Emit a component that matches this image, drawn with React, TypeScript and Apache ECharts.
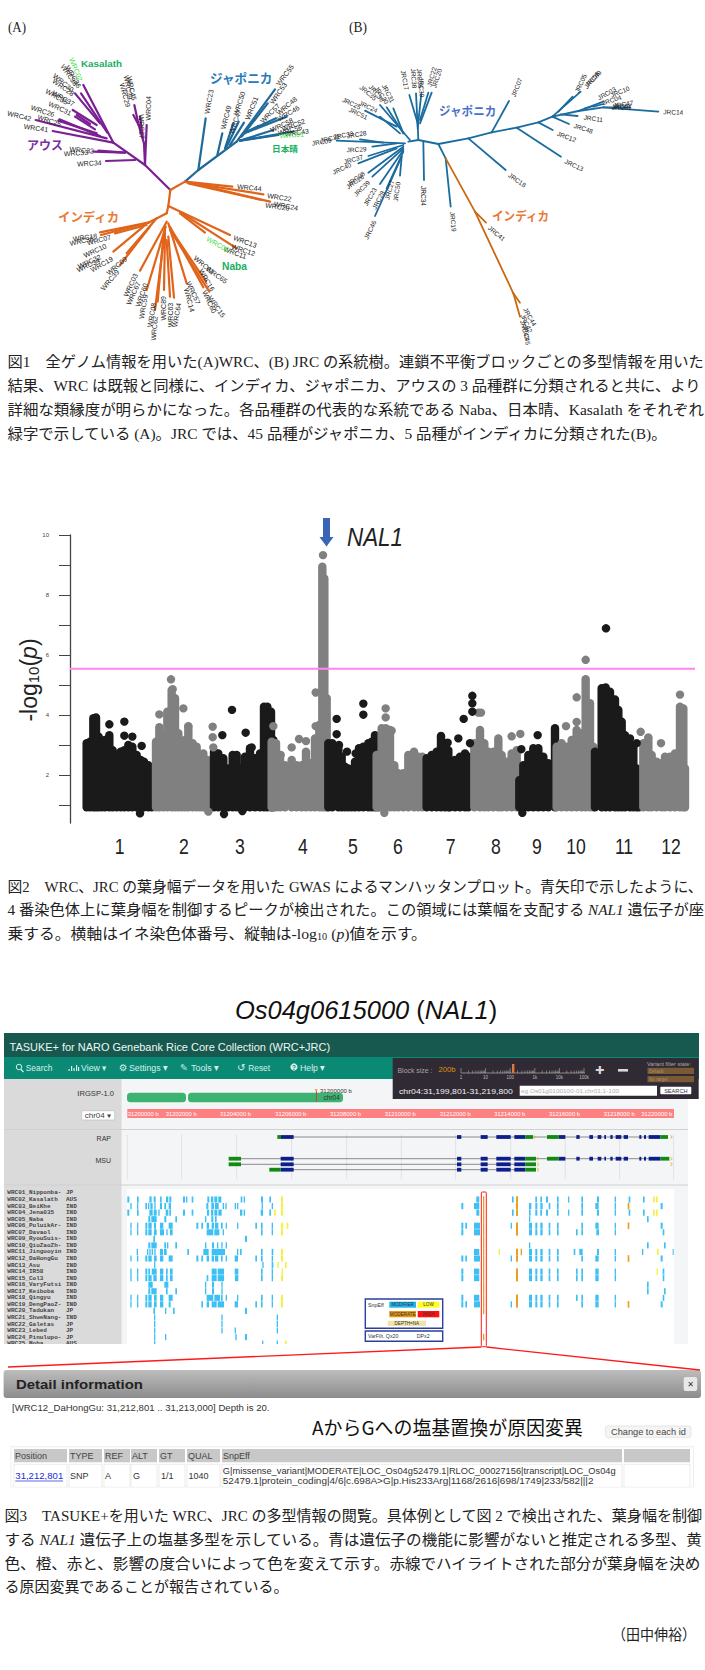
import React, { useEffect, useRef } from "react";
import * as echarts from "echarts";

const SANS = '"Liberation Sans","Noto Sans CJK JP"';
const CAP = '"Liberation Serif","Noto Sans CJK JP"';
const JP = '"Noto Sans CJK JP"';
const BLACK = "#1a1a1a";
const GREY = "#808080";

// ---------- Tree A (unrooted tree, tree units) ----------
const treeAPurple = [
  [511,570,435,495],[435,495,340,428],[435,495,432,430],[435,495,440,375],[432,430,416,375],[416,375,403,315],[416,375,400,345],[428,410,420,350],
  [405,480,318,483],[375,458,280,455],[375,458,295,452],[340,428,158,393],[320,415,107,360],[300,408,178,358],[290,400,175,362],
  [340,428,250,255],[322,398,243,280],[300,370,225,280],[290,375,218,330],[270,372,230,345],[285,388,225,350],
];
const treeABlue = [
  [555,545,595,510],[595,510,710,425],[595,510,617,355],[652,465,667,400],[675,445,700,370],[690,435,732,368],[680,440,716,365],
  [710,425,825,268],[725,410,803,310],[735,400,775,378],[740,395,828,355],[745,395,860,350],[720,422,820,390],[720,422,835,405],[720,422,880,395],
];
const treeAOrange = [
  [511,570,555,545],[511,570,505,618],[505,618,500,640],[555,545,697,560],[560,547,790,583],[565,550,785,600],[620,560,810,605],
  [505,618,690,705],[540,636,710,745],[540,640,615,698],[500,640,445,668],[445,668,300,697],[445,668,303,705],[440,675,345,700],[430,680,340,755],[470,655,380,760],[450,680,360,795],
  [500,665,420,812],[497,680,440,870],[495,690,465,930],[490,710,473,905],[495,700,492,870],[500,720,510,890],[505,710,522,893],[505,670,560,850],[510,680,610,862],[510,690,628,875],[520,700,618,845],
];
const treeALabels: [number,number,number,string][] = [
  [58,348,-14,"WRC42"],[128,333,-18,"WRC26"],[148,362,-18,"WRC25"],[108,384,-8,"WRC41"],[245,450,-5,"WRC32"],[228,459,3,"WRC33"],[268,490,3,"WRC34"],
  [190,295,-30,"WRC37"],[180,325,-25,"WRC31"],[170,290,-30,"WRC35"],[190,262,-35,"WRC28"],[190,248,-40,"WRC30"],[208,225,-55,"WRC38"],[220,230,-60,"WRC36"],
  [375,285,-75,"WRC29"],[395,265,-78,"WRC45"],[385,262,-80,"WRC39"],[425,380,-88,"WRC27"],[445,325,88,"WRC04"],
  [627,305,80,"WRC23"],[678,352,75,"WRC49"],[718,310,72,"WRC50"],[705,365,70,"WRC47"],[755,325,68,"WRC51"],[855,225,52,"WRC55"],[835,280,55,"WRC53"],[810,340,45,"WRC57"],[860,318,40,"WRC48"],[865,340,30,"WRC46"],[845,375,25,"WRC58"],[880,375,20,"WRC52"],[870,390,15,"WRC56"],[890,398,8,"WRC43"],
  [748,563,-5,"WRC44"],[838,592,-8,"WRC22"],[858,618,-10,"WRC24"],[832,620,-8,"WRC20"],
  [735,725,-20,"WRC13"],[730,750,-18,"WRC12"],[705,758,-20,"WRC11"],
  [255,712,8,"WRC18"],[245,723,12,"WRC36"],[297,720,15,"WRC07"],[285,752,25,"WRC10"],[268,785,25,"WRC32"],[265,795,25,"WRC34"],[305,793,30,"WRC19"],[350,798,40,"WRC09"],[330,840,50,"WRC39"],
  [392,855,65,"WRC03"],[400,880,65,"WRC67"],[425,885,70,"WRC60"],[430,920,80,"WRC59"],[455,945,80,"WRC08"],[463,985,85,"WRC62"],[490,925,90,"WRC89"],[512,945,90,"WRC63"],[530,945,80,"WRC64"],
  [580,878,-65,"WRC57"],[568,900,-75,"WRC14"],[620,840,-60,"WRC16"],[628,905,-65,"WRC60"],[650,920,-55,"WRC15"],[650,825,-35,"WRC65"],[612,795,-40,"WRC61"],
];
const treeAGreenLabels: [number,number,number,string][] = [[228,208,-68,"WRC02"],[875,405,5,"WRC01"],[653,733,-30,"WRC05"]];

// ---------- Tree B ----------
const treeBBlue = [
  [205,425,235,420],[235,420,295,432],[295,432,385,415],[385,415,455,397],[455,397,530,383],[530,383,595,367],[595,367,637,350],[637,350,715,333],[715,333,790,322],[790,322,955,335],
  [455,397,507,303],[385,415,497,510],[530,383,663,470],[595,367,638,390],[637,350,687,372],[662,343,713,348],[637,350,722,275],[655,335,698,290],[715,333,790,305],[735,325,760,318],[760,320,790,312],[790,322,870,322],
  [295,432,317,475],[317,475,332,620],[250,425,252,540],
  [235,420,233,370],[233,370,208,285],[233,380,228,280],[233,385,244,280],[240,360,265,278],[240,370,275,278],
  [210,420,120,315],[190,400,140,322],[190,400,160,325],[170,380,75,332],[180,400,120,350],
  [195,430,-10,422],[130,428,60,418],[170,430,97,440],[190,435,85,468],[170,445,55,490],[190,440,85,518],[190,445,97,530],[190,450,120,552],[190,455,140,565],[185,470,105,648],[185,470,180,527],
];
const treeBOrange = [[317,475,405,635],[405,635,520,880],[520,880,540,950],[405,635,438,668],[520,880,540,908]];
const treeBLabels: [number,number,number,string][] = [
  [195,240,-80,"JRC17"],[222,235,-85,"JRC38"],[240,235,-85,"JRC36"],[245,262,-88,"JRC39"],[275,230,75,"JRC22"],[290,235,72,"JRC20"],
  [145,280,-62,"JRC31"],[85,278,-40,"JRC35"],[110,280,-50,"JRC36"],[125,285,-55,"JRC30"],[35,310,-25,"JRC25"],[85,320,-25,"JRC24"],[55,340,-25,"JRC51"],
  [50,403,10,"JRC28"],[10,405,10,"JRC33"],[-30,415,12,"JRC32"],[-55,425,10,"JRC09"],[50,448,3,"JRC29"],[40,478,15,"JRC37"],[5,505,25,"JRC40"],[48,535,35,"JRC08"],[45,545,35,"JRC26"],[65,565,45,"JRC39"],[90,590,60,"JRC23"],[115,600,62,"JRC28"],[148,570,75,"JRC27"],[170,575,82,"JRC50"],[90,690,65,"JRC46"],
  [250,588,-90,"JRC34"],[340,665,-85,"JRC19"],[470,700,-40,"JRC41"],[532,540,-35,"JRC18"],[702,495,-25,"JRC13"],[680,410,-20,"JRC12"],[730,385,-18,"JRC48"],[760,355,-8,"JRC11"],[1000,336,-2,"JRC14"],
  [530,262,68,"JRC07"],[722,250,65,"JRC05"],[755,240,50,"JRC06"],[760,235,45,"JRC09"],[800,280,30,"JRC03"],[840,275,22,"JRC10"],[815,300,18,"JRC04"],[850,312,8,"JRC47"],[845,318,3,"JRC02"],[845,322,0,"JRC01"],
  [570,950,-60,"JRC44"],[560,970,-65,"JRC42"],[555,990,-75,"JRC43"],[560,1005,-80,"JRC45"],
];

// ---------- Manhattan plot: tops of the stacked dots, per chromosome ----------
const R = 795;
const chr1Tops = [[50,3.06],[60,3.11],[70,3.89],[78,3.92],[86,3.28],[95,3.06],[105,3.17],[118,3.33],[128,2.83],[140,2.67],[152,2.78],[163,2.83],[175,3.0],[187,2.94],[200,2.67],[212,2.5],[222,2.44],[235,2.33],[245,2.22]];
const chr2Tops = [[258,3.11],[268,3.59],[280,3.28],[292,4.11],[305,4.83],[315,4.56],[325,3.39],[335,2.61],[345,3.17],[355,3.61],[368,3.06],[380,2.94],[390,2.61],[400,2.72],[412,2.5]];
const chr3Tops = [[432,2.78],[445,2.72],[460,2.56],[475,2.22],[488,2.67],[500,2.67],[512,2.22],[525,2.61],[540,2.89],[555,2.56],[570,2.72],[582,4.28],[592,4.28],[603,4.11],[610,3.17]];
const chr4Tops = [[605,3.11],[618,3.06],[630,2.67],[645,2.33],[665,2.5],[680,2.33],[695,2.33],[708,2.78],[722,2.39],[735,3.22],[748,3.67],[757,8.94],[763,8.55],[770,4.5]];
const chr5Tops = [[-20,3.06],[-8,3.06],[10,2.94],[20,2.61],[30,2.28],[40,2.22],[50,2.11],[60,2.44],[72,2.89],[85,2.94],[100,3.06],[110,3.11],[120,3.33],[130,2.94]];
const chr6Tops = [[125,2.67],[140,3.56],[152,3.56],[165,3.5],[178,2.33],[190,2.06],[205,2.06],[220,2.67],[237,2.78],[250,2.61],[262,2.61]];
const chr7Tops = [[275,2.56],[290,2.67],[305,2.78],[318,3.28],[330,3.06],[340,2.83],[345,2.39],[360,2.5],[375,2.61],[390,2.72],[400,2.61]];
const chr8Tops = [[418,3.06],[435,3.5],[448,3.06],[460,2.78],[475,2.78],[490,3.22],[500,2.67],[515,2.44],[530,2.72],[545,2.83]];
const chr9Tops = [[553,1.83],[565,2.33],[580,2.67],[595,2.89],[610,2.89],[625,2.61],[640,2.39],[660,3.56]];
const chr10Tops = [[665,2.94],[680,3.06],[695,2.94],[710,3.17],[725,3.5],[740,3.39],[752,5.19],[765,4.39],[775,2.94]];
const chr11Tops = [[780,2.78],[800,4.89],[812,4.92],[825,4.78],[840,4.52],[850,4.17],[860,3.78],[870,3.33],[885,3.06],[895,2.89],[905,2.22],[912,1.28]];
const chr12Tops = [[925,3.06],[940,3.22],[950,2.67],[965,2.44],[980,2.39],[990,2.61],[1005,2.61],[1020,2.72],[1035,4.28],[1045,4.22],[1050,2.22]];
const blackDotsLeft = [[118,3.69],[163,3.78],[163,3.31],[187,3.28],[215,2.97],[457,3.33],[486,4.17],[527,3.41],[545,2.92],[210,0.72],[462,0.7],[517,0.8]];
const greyDotsLeft = [[268,4.02],[303,5.19],[308,4.86],[340,4.22],[355,3.63],[428,3.61],[428,3.26],[430,2.92],[610,3.63],[632,2.67],[665,2.92],[687,3.2],[708,3.13],[737,3.63],[737,4.75],[770,4.56],[759,9.33],[415,0.78]];
const blackDotsRight = [[5,3.87],[5,3.36],[12,3.0],[36,2.78],[62,2.72],[85,4.38],[85,4.01],[318,3.3],[338,3.08],[335,2.86],[370,3.22],[386,3.87],[405,3.06],[412,4.64],[412,4.39],[412,4.11],[559,2.86],[608,3.33],[885,3.22],[905,3.06],[562,0.74],[813,6.89]];
const greyDotsRight = [[152,4.22],[152,3.92],[170,3.48],[430,4.08],[438,4.08],[530,3.29],[556,3.37],[752,5.84],[725,4.59],[725,3.77],[693,3.63],[1035,4.68],[978,3.06],[917,3.44],[940,3.25],[148,0.74]];
const threshold = 5.54;
const yTicks = [1,2,3,4,5,6,7,8,9,10];
const yLabels = [2,4,6,8,10];
const chrNames = ["1","2","3","4","5","6","7","8","9","10","11","12"];
const chrNamePos = [149,342,510,699,849,984,1142,1278,1401,1518,1662,1803];

// ---------- TASUKE+ gene tracks (track bins) ----------
const RB = 1056;
const trackY = [7, 28.7, 34.3, 39.7];
const trackRulerGrid = [382,545,710,875,1040,1204,1367,1532,1696,1859,2021];
const rightExons = [[315,328],[386,407],[433,476],[487,520]];
const rightExons2 = [[620,640],[673,683],[712,723],[737,748],[757,762],[775,782],[791,808],[815,828],[862,868],[876,882],[890,925]];
const trackIntrons = [
  [0,881,RB+925],[1,723,RB+925],[2,723,RB+520],[3,842,RB+520],
];
const trackGreen = [
  [0,832,843],[0,RB+520,RB+543],[0,RB+585,RB+620],[0,RB+925,RB+948],
  [1,686,723],[1,RB+520,RB+552],[1,RB+585,RB+620],[1,RB+925,RB+952],
  [2,686,723],[2,RB+520,RB+552],
  [3,808,842],[3,RB+520,RB+552],
];
const trackBlueBase = [[0,843,881],[1,842,881],[2,842,881],[3,842,881]];
const trackArrows = [[0,RB+548],[0,RB+958],[1,RB+558],[1,RB+958],[2,RB+558],[2,RB+958],[3,RB+558]];
const rulerLabels = ["31200000 b","31202000 b","31204000 b","31206000 b","31208000 b","31210000 b","31212000 b","31214000 b","31216000 b","31218000 b","31220000 b"];
const rulerLabelX = [127.7,165.7,220,275.3,330,384.7,439.7,494.3,549,603.7,641.3];

// ---------- TASUKE+ variant matrix ----------
const rowNames = ["WRC01_Nipponba-","WRC02_Kasalath","WRC03_BeiKhe","WRC04_Jena035","WRC05_Naba","WRC06_PuluikAr-","WRC07_Davaol","WRC09_RyouSuis-","WRC10_QiuZaoZh-","WRC11_Jinguoyin","WRC12_DaHongGu","WRC13_Asu","WRC14_IR58","WRC15_Col3","WRC16_VaryFutsi","WRC17_Keiboba","WRC18_Qingyu","WRC19_DengPaoZ-","WRC20_Tadukan","WRC21_ShweNang-","WRC22_Galetas","WRC23_Lebed","WRC24_Pinulupo-","WRC25_Moha"];
const rowGroups = ["JP","AUS","IND","IND","IND","IND","IND","IND","IND","IND","IND","IND","IND","IND","IND","IND","IND","IND","JP","IND","JP","JP","JP","AUS"];
const blueLeft: number[][] = [
  [],
  [382,388,411,416,448,455,461,467,480,485,498,505,508,514,549,555,558,562,575,580,622,628,633,640,643,652,655,664,722,727,731,735,783,789,808,813],
  [391,395,411,415,436,441,444,448,451,458,463,467,480,486,493,498,506,513,619,625,634,642,645,656,668,672,676,680,704,708,711,715,785,789,815,819],
  [382,388,411,416,448,458,461,470,475,479,497,505,508,513,549,555,575,580,621,627,633,640,643,652,655,665,720,727,731,735,782,789,808,813],
  [445,451,454,470,493,499,526,531,615,619,634,640,645,650],
  [391,395,411,415,436,442,445,455,462,468,480,490,506,518,589,595,604,609,620,627,635,642,645,655,663,668,677,680,711,715,766,771,783,788,815,819],
  [391,395,411,415,436,442,445,455,462,470,480,492,499,503,510,518,620,640,643,658,668,672,783,788,815,819],
  [460,465,735,741],
  [445,451,454,470,493,498,501,505,526,531,615,619,636,642,651,655,664,668,677,681],
  [410,414,441,445,448,452,455,458,463,467,480,489,492,500,562,567,610,626,635,675,711,715,720,725,783,788,815,820],
  [391,395,411,415,436,442,445,455,462,470,480,490,506,518,589,595,604,609,620,627,635,642,645,655,663,668,677,680,704,714,766,771,783,788,815,819],
  [462,466,787,791,815,820],
  [391,395,411,415,436,442,445,450,455,470,480,490,498,503,510,518,635,650,653,672,704,715,783,788,815,819],
  [391,395,411,415,436,442,445,455,460,470,480,490,498,503,510,518,620,625,635,650,653,672,705,715,783,788,815,819],
  [445,458,493,505,615,619,636,642,664,668],
  [445,451,454,470,498,503,526,531,615,619,636,642,664,668],
  [391,395,411,415,436,442,445,455,462,470,480,490,506,518,620,640,643,660,663,668,677,681,711,715,783,788,815,819],
  [391,395,411,415,436,442,445,455,462,470,480,490,506,512,604,609,620,627,635,650,653,672,704,714,766,771,783,788,815,819],
  [460,465,495,499,519,524,735,741],
  [462,465,664,668,830,834],
  [462,465,664,668,830,834],
  [462,465,664,668,704,708,830,834],
  [462,465,495,499,706,710,735,741],
  [462,465,786,790,830,834],
];
const blueRight: number[][] = [
  [],
  [373,382,480,485,550,555,565,570,582,588,615,620,648,652,688,693,735,741,788,792,830,835,873,878],
  [328,334,366,382,531,538,550,556,565,572,590,595,615,620,688,693,730,740,788,792,926,932],
  [373,382,480,485,531,536,550,556,565,570,582,588,615,620,648,652,688,693,735,741,788,792,830,835,873,878],
  [531,535,885,890],
  [328,334,340,345,366,384,476,480,531,540,550,556,565,572,590,595,615,620,688,693,730,740,788,792,926,932],
  [328,334,366,384,531,540,550,556,565,572,590,595,615,620,672,677,688,693,733,741,788,792,932,937],
  [],
  [531,535,885,890,936,941],
  [366,382,531,540,550,556,565,572,590,595,615,620,665,670,682,692,735,741,788,792,870,874,962,967],
  [328,334,340,345,366,384,476,480,531,540,550,556,565,572,590,595,615,620,688,693,730,740,788,792,926,932],
  [],
  [328,334,366,382,531,540,550,556,565,572,590,595,615,620,672,677,688,693,730,740,788,792,932,937],
  [328,334,366,382,531,540,550,556,565,572,590,595,615,620,672,677,688,693,730,740,788,792,932,937],
  [885,890],
  [885,890,936,941],
  [328,334,366,382,531,540,550,556,565,572,590,595,615,620,672,677,688,693,730,740,788,792,932,937],
  [328,334,340,345,366,384,476,480,531,540,550,556,565,572,590,595,615,620,688,693,730,740,788,792,926,932],
  [],[],[],[],[],[],
];
// [row, start, end]
const yellowMarks = [
  [1,843,849],[1,RB+903,RB+908],[1,RB+912,RB+917],[2,843,849],[3,822,827],[3,843,849],[3,RB+903,RB+908],[3,RB+912,RB+917],
  [5,843,849],[5,860,865],[6,843,849],[9,843,849],[9,RB+440,RB+444],[9,RB+915,RB+920],[10,843,849],[11,832,836],[11,855,860],[12,845,849],[12,RB+914,RB+918],[13,843,849],[16,843,849],[17,843,849],[23,855,860],
];
const orangeRows = [1,2,3,5,6,9,10,12,13,16,17];
const orangeFull = [1,2,3,4,5,6,7,8,9,10,11,12,13,14,15,16,17,18,22];
const orangeExtra = [[2,RB+827,RB+832],[5,RB+827,RB+832],[10,RB+827,RB+832],[17,RB+827,RB+832],[9,RB+506,RB+510]];

function toTriples(rows: number[][], shift: number) {
  const out: number[][] = [];
  rows.forEach((r, i) => { for (let k = 0; k < r.length; k += 2) out.push([i, r[k] + shift, r[k + 1] + shift]); });
  return out;
}

const canvas = document.createElement("canvas");
const ctx = canvas.getContext("2d")!;
function widthOf(text: string, font: string) { ctx.font = font; return ctx.measureText(text).width; }

function segSeries(xi: number, data: number[][], color: string, w: number, z = 3): any {
  return {
    type: "custom", xAxisIndex: xi, yAxisIndex: xi, silent: true, clip: false, z,
    data, encode: { x: [0, 2], y: [1, 3] },
    renderItem: (_p: any, api: any) => {
      const a = api.coord([api.value(0), api.value(1)]);
      const b = api.coord([api.value(2), api.value(3)]);
      return { type: "line", shape: { x1: a[0], y1: a[1], x2: b[0], y2: b[1] }, style: { stroke: color, lineWidth: w, lineCap: "round", fill: null } };
    },
  };
}
function labelSeries(xi: number, items: [number,number,number,string][], color: string, size: number): any {
  return {
    type: "custom", xAxisIndex: xi, yAxisIndex: xi, silent: true, clip: false, z: 4,
    data: items.map((d) => [d[0], d[1]]), encode: { x: 0, y: 1 },
    renderItem: (p: any, api: any) => {
      const d = items[p.dataIndex];
      const a = api.coord([api.value(0), api.value(1)]);
      return { type: "text", x: a[0], y: a[1], rotation: (d[2] * Math.PI) / 180,
        style: { text: d[3], fill: color, fontSize: size, fontFamily: SANS, align: "center", verticalAlign: "middle" } };
    },
  };
}
function columnSeries(tops: number[][], shift: number, color: string): any {
  return {
    type: "custom", xAxisIndex: 2, yAxisIndex: 2, silent: true, clip: false, z: 3,
    data: tops.map((t) => [t[0] + shift, t[1]]), encode: { x: 0, y: 1 },
    renderItem: (_p: any, api: any) => {
      const a = api.coord([api.value(0), api.value(1)]);
      const b = api.coord([api.value(0), 0.92]);
      return { type: "rect", shape: { x: a[0] - 4.2, y: a[1] - 4.2, width: 8.4, height: b[1] - a[1] + 8.4, r: 4.2 }, style: { fill: color } };
    },
  };
}
function dotSeries(dots: number[][], shift: number, color: string): any {
  return { type: "scatter", xAxisIndex: 2, yAxisIndex: 2, silent: true, symbolSize: 8.4, z: 4, itemStyle: { color, opacity: 1 }, data: dots.map((d) => [d[0] + shift, d[1]]) };
}
function barSeries(xi: number, data: number[][], yOf: (v: number) => number, color: string, h: number, minW = 0, z = 3): any {
  return {
    type: "custom", xAxisIndex: xi, yAxisIndex: xi, silent: true, z,
    data: data.map((d) => [d[1], yOf(d[0]), d[2]]), encode: { x: [0, 2], y: 1 },
    renderItem: (p: any, api: any) => {
      const a = api.coord([api.value(0), api.value(1)]);
      const b = api.coord([api.value(2), api.value(1)]);
      const rect = echarts.graphic.clipRectByRect(
        { x: a[0], y: a[1] - h / 2, width: Math.max(b[0] - a[0], minW), height: h },
        { x: p.coordSys.x, y: p.coordSys.y, width: p.coordSys.width, height: p.coordSys.height });
      return rect ? { type: "rect", shape: rect, style: { fill: color } } : null;
    },
  };
}

function rect(x: number, y: number, w: number, h: number, fill: any, extra: any = {}): any {
  const { r, stroke, lineWidth, z } = extra;
  return { type: "rect", z: z ?? 0, shape: { x, y, width: w, height: h, r: r ?? 0 }, style: { fill, stroke, lineWidth } };
}
function txt(text: string, x: number, y: number, size: number, color: string, o: any = {}): any {
  const family = o.family ?? SANS;
  const weight = o.weight ?? "normal";
  let scaleX = 1;
  if (o.width) scaleX = o.width / widthOf(text, `${weight} ${size}px ${family}`);
  return { type: "text", z: o.z ?? 1, x, y, scaleX, rotation: o.rotation ?? 0,
    style: { text, fill: color, fontSize: size, fontFamily: family, fontWeight: weight, fontStyle: o.style ?? "normal", align: o.align ?? "left", verticalAlign: "middle" } };
}
function line(x1: number, y1: number, x2: number, y2: number, stroke: string, w: number, z = 0): any {
  return { type: "line", z, shape: { x1, y1, x2, y2 }, style: { stroke, lineWidth: w } };
}

const capRich = (size: number): any => ({
  i: { fontSize: size, fontFamily: CAP, fontStyle: "italic", fill: "#222" },
  s: { fontSize: size * 0.65, fontFamily: CAP, fill: "#222", verticalAlign: "bottom", padding: [6, 0, 0, 0] },
});
function caption(text: string, x: number, xEnd: number, y: number): any {
  const size = 15.2;
  let w = 0;
  text.split(/(\{[is]\|[^}]*\})/).forEach((part) => {
    const m = part.match(/^\{([is])\|([^}]*)\}$/);
    if (m) w += widthOf(m[2], m[1] === "i" ? `italic ${size}px ${CAP}` : `${size * 0.65}px ${CAP}`);
    else w += widthOf(part, `${size}px ${CAP}`);
  });
  return { type: "text", x, y, scaleX: (xEnd - x) / w, z: 1,
    style: { text, fill: "#222", fontSize: size, fontFamily: CAP, align: "left", verticalAlign: "middle", rich: capRich(size) } };
}

function buildGraphics(): any[] {
  const g: any[] = [];
  // panel letters
  g.push(txt("(A)", 8, 27, 15, "#222", { family: CAP, width: 18 }));
  g.push(txt("(B)", 349, 27, 15, "#222", { family: CAP, width: 18 }));
  // tree labels
  g.push(txt("Kasalath", 81, 64, 9.5, "#17b060", { weight: "bold", width: 41 }));
  g.push(txt("ジャポニカ", 210, 77.5, 13, "#2a7ab8", { weight: "bold", family: JP, width: 63 }));
  g.push(txt("日本晴", 272, 148, 8.5, "#17b060", { weight: "bold", family: JP, width: 26 }));
  g.push(txt("アウス", 27, 145, 12.5, "#7b2fa0", { weight: "bold", family: JP, width: 36 }));
  g.push(txt("インディカ", 58, 217, 12.5, "#e87a35", { weight: "bold", family: JP, width: 62 }));
  g.push(txt("Naba", 222, 267, 10, "#17b060", { weight: "bold", width: 25 }));
  g.push(txt("ジャポニカ", 439, 110, 12.5, "#4a72c8", { weight: "bold", family: JP, width: 58 }));
  g.push(txt("インディカ", 492, 215, 12.5, "#e87a35", { weight: "bold", family: JP, width: 58 }));
  // captions
  g.push(caption("図1　全ゲノム情報を用いた(A)WRC、(B) JRC の系統樹。連鎖不平衡ブロックごとの多型情報を用いた", 7.5, 704, 362));
  g.push(caption("結果、WRC は既報と同様に、インディカ、ジャポニカ、アウスの 3 品種群に分類されると共に、より", 7.5, 702, 386));
  g.push(caption("詳細な類縁度が明らかになった。各品種群の代表的な系統である Naba、日本晴、Kasalath をそれぞれ", 7.5, 704, 410));
  g.push(caption("緑字で示している (A)。JRC では、45 品種がジャポニカ、5 品種がインディカに分類された(B)。", 7.5, 669, 434));
  g.push(caption("図2　WRC、JRC の葉身幅データを用いた GWAS によるマンハッタンプロット。青矢印で示したように、", 7.5, 704, 886.7));
  g.push(caption("4 番染色体上に葉身幅を制御するピークが検出された。この領域には葉幅を支配する {i|NAL1} 遺伝子が座", 7.5, 704, 910));
  g.push(caption("乗する。横軸はイネ染色体番号、縦軸は-log{s|10} ({i|p})値を示す。", 7.5, 427, 934));
  g.push(caption("図3　TASUKE+を用いた WRC、JRC の多型情報の閲覧。具体例として図 2 で検出された、葉身幅を制御", 4.5, 702.7, 1516));
  g.push(caption("する {i|NAL1} 遺伝子上の塩基多型を示している。青は遺伝子の機能に影響がないと推定される多型、黄", 4.5, 702.7, 1540));
  g.push(caption("色、橙、赤と、影響の度合いによって色を変えて示す。赤線でハイライトされた部分が葉身幅を決め", 4.5, 702.7, 1564));
  g.push(caption("る原因変異であることが報告されている。", 4.5, 289, 1587.3));
  g.push(caption("（田中伸裕）", 612, 696, 1635));

  // Manhattan annotations
  g.push({ type: "polygon", z: 5, shape: { points: [[323,518],[330,518],[330,537],[333.5,537],[326.5,546.5],[319.5,537],[323,537]] }, style: { fill: "#3a65b5" } });
  g.push(txt("NAL1", 347, 536.5, 26, "#222", { style: "italic", width: 56 }));
  g.push({ type: "text", z: 5, x: 29, y: 680, rotation: Math.PI / 2,
    style: { text: "-log{s|10}({i|p})", fontSize: 23, fontFamily: SANS, fill: "#222", align: "center", verticalAlign: "middle",
      rich: { s: { fontSize: 15, fontFamily: SANS, fill: "#222", verticalAlign: "bottom", padding: [8, 0, 0, 0] }, i: { fontSize: 23, fontFamily: SANS, fontStyle: "italic", fill: "#222" } } } });
  // Page title
  g.push({ type: "text", z: 1, x: 366, y: 1010, style: { text: "{i|Os04g0615000} ({i|NAL1})", fontSize: 25.5, fontFamily: SANS, fill: "#111", align: "center", verticalAlign: "middle",
    rich: { i: { fontSize: 25.5, fontFamily: SANS, fontStyle: "italic", fill: "#111" } } } });

  // TASUKE chrome
  g.push(rect(4, 1033, 695, 24, "#17594f"));
  g.push(rect(4, 1057, 695, 22, "#0a8a75"));
  g.push(rect(4, 1079, 684, 265, "#f4f5f7"));
  g.push(rect(4, 1079, 117.5, 265, "#dadada"));
  g.push(rect(127, 1189, 547, 155, "#ffffff"));
  g.push(line(4, 1129.5, 688, 1129.5, "#d0d0d0", 1));
  g.push(line(4, 1185, 688, 1185, "#d0d0d0", 1));
  g.push(txt("TASUKE+ for NARO Genebank Rice Core Collection (WRC+JRC)", 9.5, 1047, 11, "#eef6f4", { width: 321 }));
  // nav
  const navColor = "#d8efe9";
  [["Search",25.7,26.7],["View ▾",81,26],["Settings ▾",129,38.7],["Tools ▾",191,28],["Reset",248.3,21.7],["Help ▾",300,25]].forEach((n: any) =>
    g.push(txt(n[0], n[1], 1067.5, 9.5, navColor, { width: n[2] })));
  g.push({ type: "ring", z: 1, shape: { cx: 19, cy: 1067, r: 3.2, r0: 2.2 }, style: { fill: navColor } });
  g.push(line(21, 1069.5, 23.5, 1072, navColor, 1.2, 1));
  [[68.5,2],[71,5],[73.5,3],[76,6],[78,4]].forEach((b) => g.push(rect(b[0], 1071 - b[1], 1.2, b[1], navColor, { z: 1 })));
  g.push(txt("⚙", 119, 1067, 9.5, navColor, { family: '"DejaVu Sans"' }));
  g.push(txt("✎", 180, 1067, 9.5, navColor, { family: '"DejaVu Sans"' }));
  g.push(txt("↺", 237, 1067, 10, navColor, { family: '"DejaVu Sans"' }));
  g.push({ type: "circle", z: 1, shape: { cx: 294, cy: 1067, r: 3.6 }, style: { fill: navColor } });
  g.push(txt("?", 294, 1067, 6.5, "#0a8a75", { align: "center", weight: "bold", z: 2 }));
  // dark block panel
  g.push(rect(392.7, 1058, 306, 41, "#2f2a33", { z: 2 }));
  g.push(txt("Block size :", 397.5, 1070, 7.5, "#a8a4aa", { z: 3, width: 35 }));
  g.push(txt("200b", 438.5, 1070, 7.5, "#e09010", { z: 3, width: 17 }));
  g.push(line(461, 1073, 585, 1073, "#c8c8c8", 0.6, 3));
  for (let d = 0; d < 5; d++) for (let k = 1; k < 10; k++) {
    const x = 461 + 24.6 * (d + Math.log10(k));
    g.push(line(x, 1073, x, k === 1 ? 1068 : 1070.5, "#c8c8c8", 0.5, 3));
  }
  g.push(line(584, 1073, 584, 1068, "#c8c8c8", 0.5, 3));
  g.push(rect(512, 1064, 2.4, 9, "#e0783a", { z: 3 }));
  ["1","10","100","1k","10k","100k"].forEach((t, i) => g.push(txt(t, 461 + i * 24.6, 1077, 4.5, "#bbb", { z: 3, align: "center" })));
  g.push(txt("✚", 595, 1070, 11, "#d8d8d8", { z: 3, family: '"DejaVu Sans"' }));
  g.push(rect(618, 1069, 10, 2.6, "#d8d8d8", { z: 3 }));
  g.push(txt("Variant filter state:", 647, 1064, 4.8, "#aaa", { z: 3, width: 44 }));
  g.push(rect(647.5, 1067.7, 46.5, 6.3, "#7a5a35", { z: 3 }));
  g.push(txt("Default", 649, 1071, 4.6, "#a89070", { z: 4 }));
  g.push(rect(647.5, 1076, 46.5, 6.3, "#7a5a35", { z: 3 }));
  g.push(txt("No target", 649, 1079.2, 4.6, "#a89070", { z: 4 }));
  g.push(txt("chr04:31,199,801-31,219,800", 399, 1091.5, 8, "#f0f0f0", { z: 3, width: 114 }));
  g.push(rect(519.7, 1085.7, 137.3, 10, "#ffffff", { z: 3 }));
  g.push(txt("eg.Os01g0100100-01,chr01:1-100", 521, 1091, 5.6, "#b0b0b0", { z: 4, width: 98 }));
  g.push(rect(660.3, 1086.7, 31, 7.6, "#ffffff", { z: 3, r: 1 }));
  g.push(txt("SEARCH", 675.8, 1090.8, 5.6, "#333", { z: 4, align: "center" }));
  // chromosome
  g.push(txt("IRGSP-1.0", 114, 1094, 7.5, "#333", { align: "right", width: 36.7 }));
  g.push(rect(127, 1092.7, 59, 9.5, "#3cb371", { r: 3.5 }));
  g.push(rect(188, 1092.7, 155, 9.5, "#3cb371", { r: 3.5 }));
  g.push(txt("chr04", 331.7, 1097, 6.5, "#333", { align: "center" }));
  g.push(rect(316, 1091, 0.9, 11, "#c0442a", { z: 2 }));
  g.push({ type: "polygon", z: 2, shape: { points: [[314.7,1089],[317.5,1089],[316.1,1092]] }, style: { fill: "#f5a020" } });
  g.push(txt("31200000 b", 320, 1091, 5, "#333", { width: 32 }));
  g.push(rect(81.7, 1110.7, 33, 9.3, "#ffffff", { stroke: "#bbb", lineWidth: 0.7, r: 1 }));
  g.push(txt("chr04 ▾", 98, 1115.5, 7, "#444", { align: "center", width: 27 }));
  g.push(rect(127.3, 1109, 546.7, 9, "#ff8080"));
  rulerLabels.forEach((t, i) => g.push(txt(t, rulerLabelX[i], 1114, 5.2, "#fff", { width: 31 })));
  g.push(txt("RAP", 111, 1138, 7, "#333", { align: "right" }));
  g.push(txt("MSU", 111, 1160, 7, "#333", { align: "right" }));

  // overlays around the matrix
  g.push(rect(4, 1344, 701, 24, "#ffffff", { z: 50 }));
  // highlight
  g.push(rect(481.3, 1192, 5, 154.7, "rgba(0,0,0,0)", { stroke: "#ff1a1a", lineWidth: 1, r: 1, z: 60 }));
  g.push(line(481.3, 1347, 8, 1367, "#ff1a1a", 1.3, 60));
  g.push(line(486.3, 1347, 700, 1370, "#ff1a1a", 1.3, 60));
  // legend
  g.push(rect(365.3, 1299, 77.4, 29.3, "#ffffff", { stroke: "#2a3f9f", lineWidth: 1.4, z: 60 }));
  g.push(rect(365.3, 1331, 77.4, 10.3, "#ffffff", { stroke: "#2a3f9f", lineWidth: 1.4, z: 60 }));
  g.push(txt("SnpEff", 368, 1304.5, 5.3, "#333", { z: 61 }));
  [["MODIFIER",389.3,1301.7,26.7,6,"#1fb5f0"],["LOW",417.7,1301.7,21.6,6,"#ffff20"],["MODERATE",389.3,1311,26.7,6.3,"#e89a10"],["HIGH",417.7,1311,21.6,6.3,"#ff1010"],["DEPTH=NA",387.7,1320.7,38.3,5.3,"#f0e4a8"]].forEach((l: any) => {
    g.push(rect(l[1], l[2], l[3], l[4], l[5], { z: 61 }));
    g.push(txt(l[0], l[1] + l[3] / 2, l[2] + l[4] / 2, 4.6, "#333", { z: 62, align: "center" }));
  });
  g.push(txt("VarFilt. Qx20", 368, 1336, 5.3, "#333", { z: 61 }));
  g.push(txt("DPx2", 416.7, 1336, 5.3, "#333", { z: 61 }));

  // Detail panel
  g.push({ type: "rect", z: 1, shape: { x: 3.6, y: 1370, width: 697.4, height: 28, r: 3 },
    style: { fill: { type: "linear", x: 0, y: 0, x2: 0, y2: 1, colorStops: [{ offset: 0, color: "#bdbdbd" }, { offset: 1, color: "#8c8c8c" }] } } });
  g.push(txt("Detail information", 16, 1384.5, 12.5, "#222", { weight: "bold", width: 127, z: 2 }));
  g.push(rect(683.7, 1377, 13.5, 14, "#e8e8e8", { r: 2, z: 2 }));
  g.push(txt("✕", 690.5, 1384, 8, "#333", { align: "center", weight: "bold", z: 3, family: '"DejaVu Sans"' }));
  g.push(txt("[WRC12_DaHongGu: 31,212,801 .. 31,213,000] Depth is 20.", 12, 1407.7, 9, "#333", { width: 258 }));
  g.push(txt("AからGへの塩基置換が原因変異", 312, 1426.7, 19, "#111", { family: JP, width: 271 }));
  g.push(rect(605.5, 1426, 85.5, 11.3, "#f5f5f5", { stroke: "#ddd", lineWidth: 0.7, r: 2 }));
  g.push(txt("Change to each id", 611, 1431.7, 8.5, "#444", { width: 75 }));
  g.push(rect(11, 1446.7, 682.5, 40.3, "#ffffff", { stroke: "#e6e6e6", lineWidth: 0.7 }));
  const cols = [[14,67,"Position"],[69,102,"TYPE"],[104,130,"REF"],[131,157,"ALT"],[159,185,"GT"],[187,220,"QUAL"],[222,622,"SnpEff"],[624,690,""]];
  cols.forEach((c: any) => {
    g.push(rect(c[0], 1449, c[1] - c[0], 13.3, "#c8c8c8"));
    g.push(rect(c[0], 1464.3, c[1] - c[0], 23, "#ffffff", { stroke: "#e4e4e4", lineWidth: 0.7 }));
    if (c[2]) g.push(txt(c[2], c[0] + 1, 1456, 9, "#444"));
  });
  g.push(rect(0, 1487.4, 705, 6, "#ffffff", { z: 2 }));
  g.push(txt("31,212,801", 15.3, 1476, 9.5, "#1a2ad8", { width: 48 }));
  g.push(line(15.3, 1481, 63, 1481, "#1a2ad8", 0.7, 1));
  g.push(txt("SNP", 70, 1476, 9, "#333"));
  g.push(txt("A", 105, 1476, 9, "#333"));
  g.push(txt("G", 133, 1476, 9, "#333"));
  g.push(txt("1/1", 161, 1476, 9, "#333"));
  g.push(txt("1040", 188.5, 1476, 9, "#333"));
  g.push(txt("G|missense_variant|MODERATE|LOC_Os04g52479.1|RLOC_00027156|transcript|LOC_Os04g", 222.8, 1470.7, 9, "#333", { width: 392.7 }));
  g.push(txt("52479.1|protein_coding|4/6|c.698A>G|p.His233Arg|1168/2616|698/1749|233/582|||2", 222.8, 1481, 9, "#333", { width: 371 }));
  return g;
}

function buildOption(): any {
  const hiddenX = (min: number, max: number, gridIndex: number) => ({ type: "value", gridIndex, min, max, show: false, splitLine: { show: false } });
  const hiddenY = (min: number, max: number, gridIndex: number) => ({ type: "value", gridIndex, min, max, show: false, inverse: true, splitLine: { show: false } });
  const trackExons = [
    ...trackBlueBase,
    ...[0,1,2,3].flatMap((t) => rightExons.map((e) => [t, e[0] + RB, e[1] + RB])),
    ...[0,1].flatMap((t) => rightExons2.map((e) => [t, e[0] + RB, e[1] + RB])),
  ];
  const blueMarks = [...toTriples(blueLeft, 0), ...toTriples(blueRight, RB)];
  const orangeMarks = [
    ...orangeFull.map((r) => [r, RB + 393, RB + 397]),
    ...orangeRows.map((r) => [r, RB + 492, RB + 498]),
    ...orangeExtra,
  ];
  return {
    animation: false,
    backgroundColor: "#ffffff",
    grid: [
      { left: 0, top: 0, width: 352, height: 350 },
      { left: 300, top: 0, width: 405, height: 350 },
      { left: 70, top: 535, width: 625, height: 288 },
      { left: 127.33, top: 1130, width: 546.33, height: 50 },
      { left: 127.33, top: 1189.7, width: 546.33, height: 154.3 },
    ],
    xAxis: [hiddenX(0, 1056, 0), hiddenX(-120, 1095, 1), hiddenX(0, 1875, 2), hiddenX(382, 2021, 3), hiddenX(382, 2021, 4)],
    yAxis: [
      hiddenY(0, 1050, 0), hiddenY(0, 1050, 1),
      { type: "value", gridIndex: 2, min: 0.4, max: 10, splitLine: { show: false },
        axisLine: { show: true, lineStyle: { color: "#444", width: 1.3 } },
        axisTick: { show: true, length: 11, lineStyle: { color: "#444", width: 1 }, customValues: yTicks },
        axisLabel: { show: true, color: "#444", fontSize: 6, fontFamily: SANS, margin: 21, customValues: yLabels } },
      hiddenY(0, 50, 3), hiddenY(-0.5, 23.05, 4),
    ],
    graphic: { elements: buildGraphics() },
    series: [
      segSeries(0, treeAPurple, "#7b1f93", 2.2),
      segSeries(0, treeABlue, "#1f6a9a", 2.2),
      segSeries(0, treeAOrange, "#e0641a", 2.2),
      labelSeries(0, treeALabels, "#222", 7),
      labelSeries(0, treeAGreenLabels, "#45e045", 7),
      segSeries(1, treeBBlue, "#1a6c9e", 1.8),
      segSeries(1, treeBOrange, "#c96a10", 1.8),
      labelSeries(1, treeBLabels, "#222", 6.5),
      columnSeries(chr1Tops, 0, BLACK), columnSeries(chr2Tops, 0, GREY), columnSeries(chr3Tops, 0, BLACK), columnSeries(chr4Tops, 0, GREY),
      columnSeries(chr5Tops, R, BLACK), columnSeries(chr6Tops, R, GREY), columnSeries(chr7Tops, R, BLACK), columnSeries(chr8Tops, R, GREY),
      columnSeries(chr9Tops, R, BLACK), columnSeries(chr10Tops, R, GREY), columnSeries(chr11Tops, R, BLACK), columnSeries(chr12Tops, R, GREY),
      dotSeries(greyDotsLeft, 0, GREY), dotSeries(blackDotsLeft, 0, BLACK), dotSeries(greyDotsRight, R, GREY), dotSeries(blackDotsRight, R, BLACK),
      { type: "line", xAxisIndex: 2, yAxisIndex: 2, silent: true, symbol: "none", z: 5, lineStyle: { color: "#ff86ef", width: 2 }, data: [[0, threshold], [1875, threshold]] },
      { type: "custom", xAxisIndex: 2, yAxisIndex: 2, silent: true, clip: false, z: 5,
        data: chrNamePos.map((p) => [p, -0.39]), encode: { x: 0, y: 1 },
        renderItem: (p: any, api: any) => {
          const a = api.coord([api.value(0), api.value(1)]);
          return { type: "text", x: a[0], y: a[1], scaleX: 0.8, style: { text: chrNames[p.dataIndex], fontSize: 22, fontFamily: SANS, fill: "#222", align: "center", verticalAlign: "middle" } };
        } },
      // gene tracks
      segSeries(3, trackRulerGrid.map((x) => [x, 5, x, 49]), "#dcdcdc", 0.8, 2),
      segSeries(3, trackIntrons.map((t) => [t[1], trackY[t[0]], t[2], trackY[t[0]]]), "#8a8a8a", 1, 3),
      barSeries(3, trackExons, (v) => trackY[v], "#0c1f8c", 3.8, 0, 4),
      barSeries(3, trackGreen, (v) => trackY[v], "#108a10", 3.8, 0, 4),
      { type: "custom", xAxisIndex: 3, yAxisIndex: 3, silent: true, clip: false, z: 4,
        data: trackArrows.map((a) => [a[1], trackY[a[0]]]), encode: { x: 0, y: 1 },
        renderItem: (_p: any, api: any) => {
          const a = api.coord([api.value(0), api.value(1)]);
          return { type: "polyline", shape: { points: [[a[0] - 1, a[1] - 1.6], [a[0] + 1, a[1]], [a[0] - 1, a[1] + 1.6]] }, style: { stroke: "#f0a030", lineWidth: 0.8, fill: null } };
        } },
      // matrix
      barSeries(4, blueMarks, (v) => v, "#3cc0f5", 6.1, 1.3),
      barSeries(4, yellowMarks, (v) => v, "#f4f03c", 6.1, 1.3),
      barSeries(4, orangeMarks, (v) => v, "#e8a020", 6.55, 1.1),
      { type: "custom", xAxisIndex: 4, yAxisIndex: 4, silent: true, clip: false, z: 4,
        data: rowNames.map((_n, i) => [22, i]), encode: { x: 0, y: 1 },
        renderItem: (p: any, api: any) => {
          const a = api.coord([22, api.value(1)]);
          const b = api.coord([198, api.value(1)]);
          return { type: "group", children: [
            { type: "text", x: a[0], y: a[1], style: { text: rowNames[p.dataIndex], fontSize: 6, fontWeight: "bold", fontFamily: '"Liberation Mono"', fill: "#444", align: "left", verticalAlign: "middle" } },
            { type: "text", x: b[0], y: b[1], style: { text: rowGroups[p.dataIndex], fontSize: 6, fontWeight: "bold", fontFamily: '"Liberation Mono"', fill: "#444", align: "left", verticalAlign: "middle" } },
          ] };
        } },
    ],
  };
}

export default function App() {
  const ref = useRef<HTMLDivElement>(null);
  useEffect(() => {
    document.body.style.margin = "0";
    const chart = echarts.init(ref.current!, undefined, { renderer: "svg" });
    chart.setOption(buildOption());
    return () => chart.dispose();
  }, []);
  return <div ref={ref} style={{ width: 705, height: 1670 }} />;
}
